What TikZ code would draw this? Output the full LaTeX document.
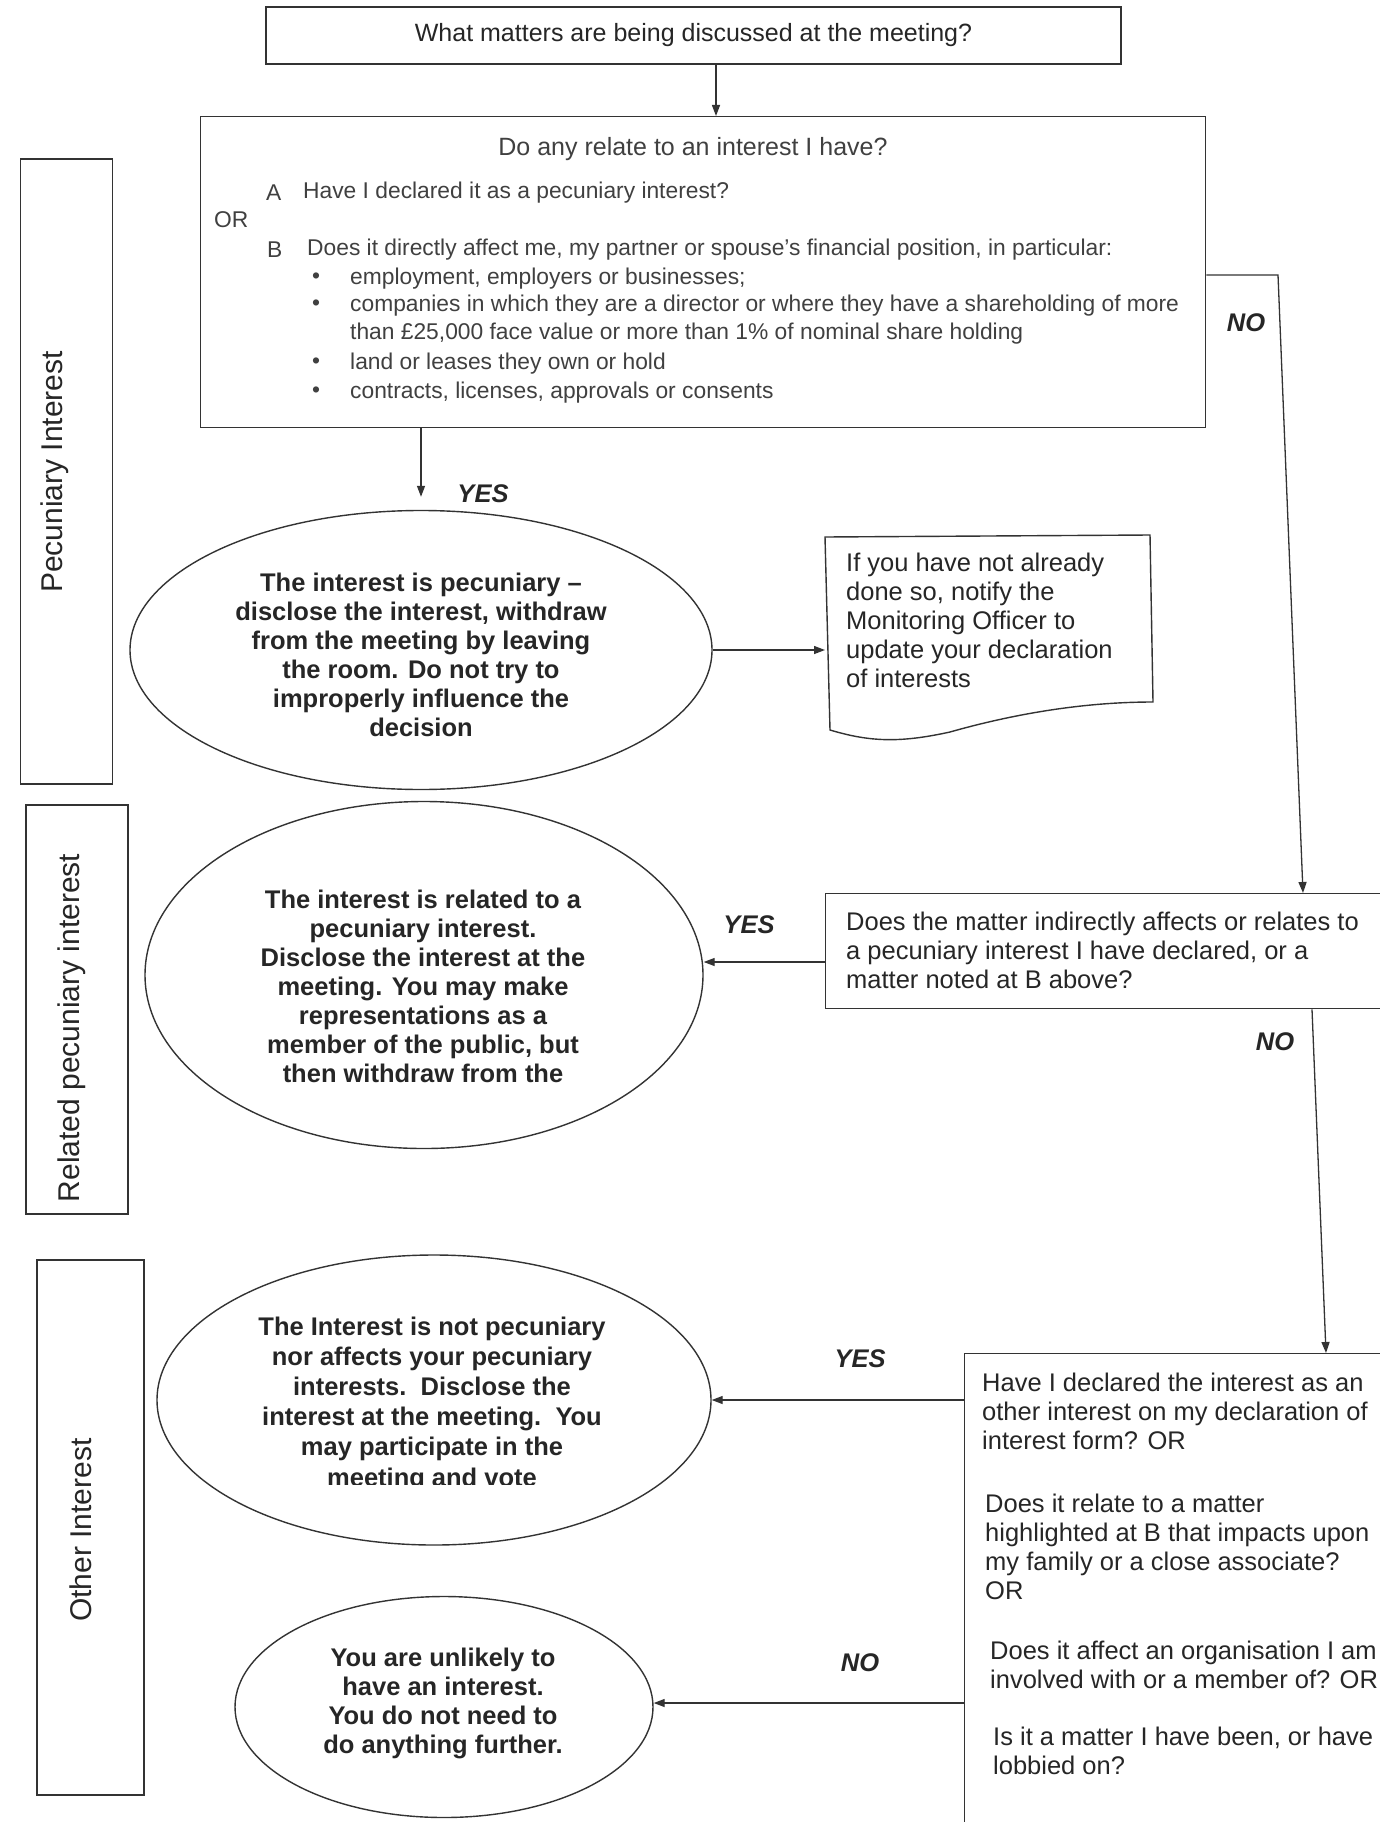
\documentclass[tikz,border=0pt]{standalone}
\usepackage{fontspec}
\setmainfont{Liberation Sans}
\usetikzlibrary{shapes.geometric,arrows.meta,calc}
\definecolor{ink}{HTML}{333333}
\definecolor{txt}{HTML}{262626}
\definecolor{ltxt}{HTML}{404040}
\begin{document}
\begin{tikzpicture}[x=1pt,y=-1pt,
 ln/.style={draw=ink,line width=1.4pt},
 arr/.style={draw=ink,line width=1.3pt,-{Triangle[length=11pt,width=8pt]}},
 rbox/.style={ln,rectangle,inner sep=0pt},
 oval/.style={ln,ellipse,inner sep=0pt},
 rtxt/.style={inner sep=0pt,text=txt,font=\fontsize{25.5}{29}\selectfont,align=left},
 stxt/.style={inner sep=0pt,text=ltxt,font=\fontsize{22.8}{28}\selectfont,align=left},
 btxt/.style={inner sep=0pt,text=txt,font=\bfseries\fontsize{25.5}{29}\selectfont,align=center},
 lab/.style={inner sep=0pt,text=txt,font=\bfseries\itshape\fontsize{25.5}{29}\selectfont},
 bandtxt/.style={inner sep=0pt,text=txt,font=\fontsize{30}{34}\selectfont,rotate=90},
]
\useasboundingbox[fill=white] (0,0) rectangle (1380,1822);

% top question
\node[rbox,minimum width=855pt,minimum height=57pt,text=txt,font=\fontsize{25}{29}\selectfont] (q0) at (693.5,35.5) {What matters are being discussed at the meeting?};

% main question box
\node[rbox,anchor=north west,minimum width=1005pt,minimum height=311pt] (q1) at (200,116) {};
\node[stxt,font=\fontsize{25}{29}\selectfont] (q1h) at (693,149.5) {Do any relate to an interest I have?};
\node[stxt,anchor=west] (qA) at (266,192.5) {A};
\node[stxt,anchor=west] (qAt) at (303,192.5) {Have I declared it as a pecuniary interest?};
\node[stxt,anchor=west] (qOR) at (214,220) {OR};
\node[stxt,anchor=west] (qB) at (267,249.5) {B};
\node[stxt,anchor=west] (qBt) at (307,249.5) {Does it directly affect me, my partner or spouse's financial position, in particular:};
\node[stxt] (bu1) at (316,278.5) {\textbullet};
\node[stxt] (bu2) at (316,305.5) {\textbullet};
\node[stxt] (bu3) at (316,363.5) {\textbullet};
\node[stxt] (bu4) at (316,392.5) {\textbullet};
\node[stxt,anchor=west] (li1) at (350,278.5) {employment, employers or businesses;};
\node[stxt,anchor=west] (li2) at (350,319.5) {companies in which they are a director or where they have a shareholding of more\\than £25,000 face value or more than 1\% of nominal share holding};
\node[stxt,anchor=west] (li3) at (350,363.5) {land or leases they own or hold};
\node[stxt,anchor=west] (li4) at (350,392.5) {contracts, licenses, approvals or consents};

% side bands
\node[rbox,minimum width=92pt,minimum height=625pt] (band1) at (66.5,471.5) {};
\node[bandtxt] (band1t) at (55,472) {Pecuniary Interest};
\node[rbox,minimum width=102pt,minimum height=409pt] (band2) at (77,1009.5) {};
\node[bandtxt] (band2t) at (72,1028) {Related pecuniary interest};
\node[rbox,minimum width=107pt,minimum height=535pt] (band3) at (90.5,1527.5) {};
\node[bandtxt] (band3t) at (81,1530) {Other Interest};

% ellipses
\node[oval,minimum width=582pt,minimum height=279pt] (e1) at (421,650) {};
\node[btxt] (e1t) at (421,655) {The interest is pecuniary –\\disclose the interest, withdraw\\from the meeting by leaving\\the room. Do not try to\\improperly influence the\\decision};
\node[oval,minimum width=558pt,minimum height=347pt] (e2) at (424,975) {};
\node[btxt] (e2t) at (423,986) {The interest is related to a\\pecuniary interest.\\Disclose the interest at the\\meeting. You may make\\representations as a\\member of the public, but\\then withdraw from the};
\node[oval,minimum width=554pt,minimum height=290pt] (e3) at (434,1400) {};
\begin{scope}
\clip (150,1250) rectangle (720,1484);
\node[btxt,font=\bfseries\fontsize{25.5}{30.2}\selectfont] (e3t) at (432,1404) {The Interest is not pecuniary\\nor affects your pecuniary\\interests.\ \ Disclose the\\interest at the meeting.\ \ You\\may participate in the\\meeting and vote};
\end{scope}
\node[oval,minimum width=418pt,minimum height=221pt] (e4) at (444,1707) {};
\node[btxt] (e4t) at (443,1703.5) {You are unlikely to\\have an interest.\\You do not need to\\do anything further.};

% document shape
\draw[ln] (825,537) -- (1150,535) -- (1153,702)
  .. controls (1080,702) and (1010,715) .. (950,732)
  .. controls (900,743) and (870,742) .. (830,730) -- cycle;
\coordinate (docL) at (825,650);
\node[rtxt,anchor=west] (doct) at (846,620) {If you have not already\\done so, notify the\\Monitoring Officer to\\update your declaration\\of interests};

% second question box
\node[rbox,anchor=north west,minimum width=600pt,minimum height=115pt] (b2) at (825,893) {};
\node[rtxt,anchor=west] (b2t) at (846,950) {Does the matter indirectly affects or relates to\\a pecuniary interest I have declared, or a\\matter noted at B above?};

% third question box
\node[rbox,anchor=north west,minimum width=500pt,minimum height=520pt] (b3) at (964,1353) {};
\node[rtxt,anchor=west] (b3p1) at (982,1411) {Have I declared the interest as an\\other interest on my declaration of\\interest form? OR};
\node[rtxt,anchor=west] (b3p2) at (985,1547) {Does it relate to a matter\\highlighted at B that impacts upon\\my family or a close associate?\\OR};
\node[rtxt,anchor=west] (b3p3) at (990,1665) {Does it affect an organisation I am\\involved with or a member of? OR};
\node[rtxt,anchor=west] (b3p4) at (993,1751) {Is it a matter I have been, or have\\lobbied on?};

% connectors
\coordinate (c1) at (716,0);
\draw[arr] (q0.south -| c1) -- (q1.north -| c1);
\draw[arr,shorten >=13pt] (q1.south -| e1.north) -- (e1.north);
\draw[arr] (e1.east) -- (docL);
\coordinate (nA) at (1278,275);
\coordinate (nB) at (1303,0);
\draw[arr] (q1.east |- nA) -- (nA) -- (b2.north -| nB);
\coordinate (e2y) at (0,962);
\draw[arr] (b2.west |- e2y) -- (e2.east |- e2y);
\coordinate (nC) at (1312,0);
\coordinate (nD) at (1326,0);
\draw[arr] (b2.south -| nC) -- (b3.north -| nD);
\draw[arr] (b3.west |- e3.east) -- (e3.east);
\coordinate (e4y) at (0,1703);
\draw[arr] (b3.west |- e4y) -- (e4.east |- e4y);

% labels
\node[lab] (l1) at (483,494) {YES};
\node[lab] (l2) at (1246,323) {NO};
\node[lab] (l3) at (749,925) {YES};
\node[lab] (l4) at (1275,1042) {NO};
\node[lab] (l5) at (860,1359) {YES};
\node[lab] (l6) at (860,1663) {NO};
\end{tikzpicture}
\end{document}
